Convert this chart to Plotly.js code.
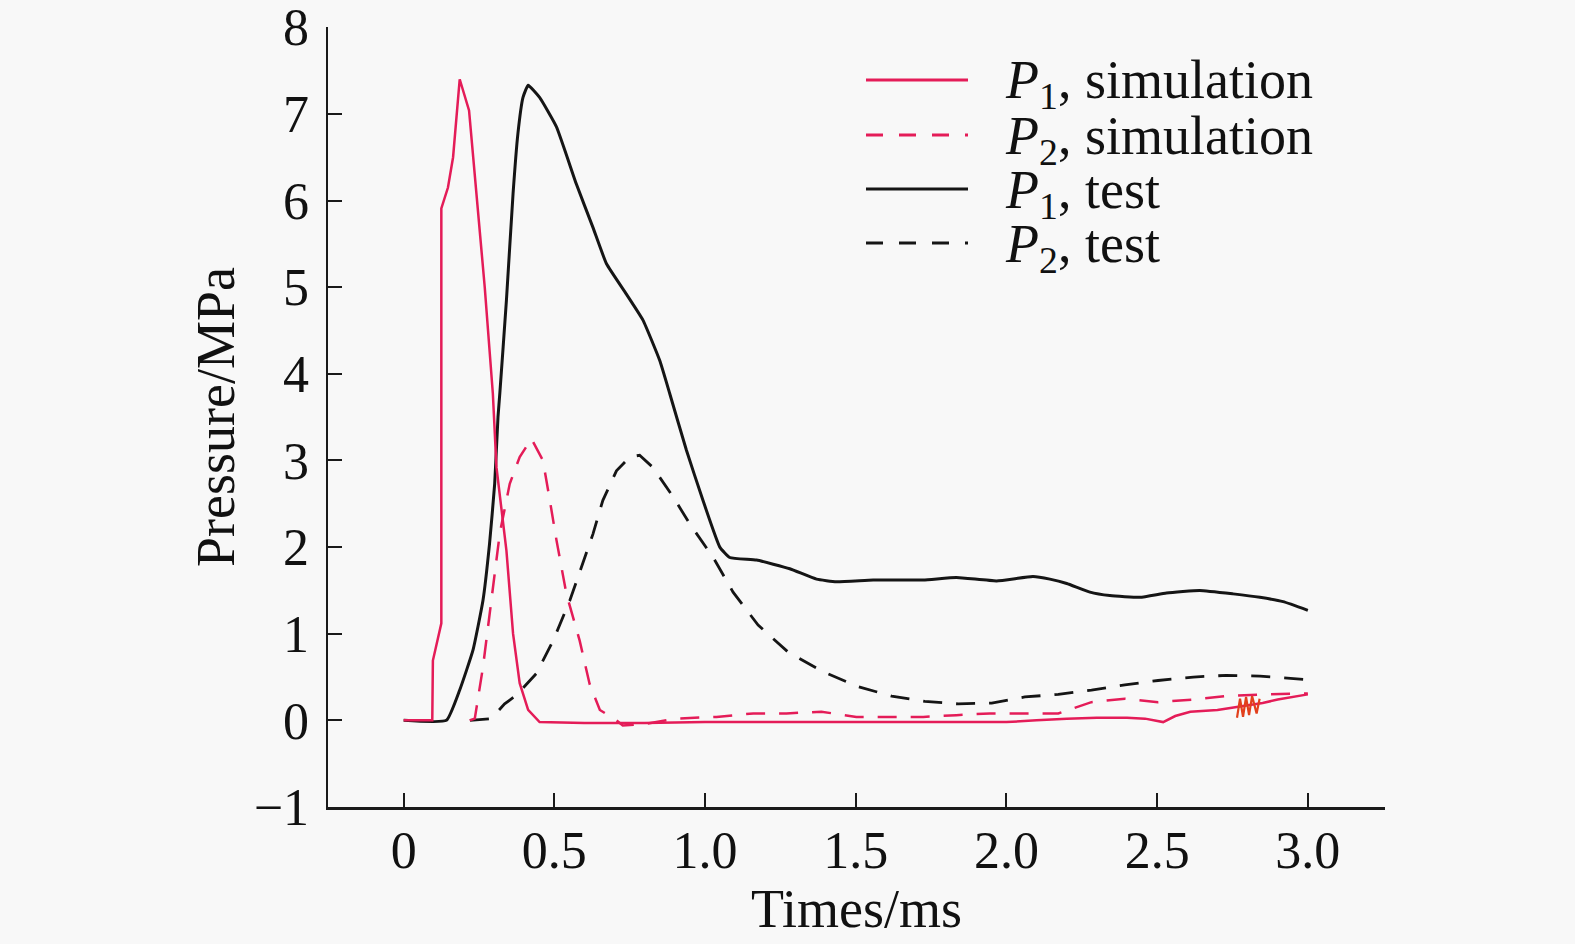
<!DOCTYPE html>
<html>
<head>
<meta charset="utf-8">
<script src="https://cdn.plot.ly/plotly-3.0.1.min.js"></script>
<style>
html,body{margin:0;padding:0;background:#f8f8f8;}
#chart{width:1575px;height:944px;}
</style>
</head>
<body>
<div id="chart"></div>
<script>
// ---- data (time in ms, pressure in MPa) ----
const p1TestT = [0, 0.142, 0.186, 0.23, 0.263, 0.285, 0.302, 0.313, 0.319, 0.341, 0.363, 0.379, 0.396, 0.413, 0.451, 0.507, 0.573, 0.628, 0.673, 0.739, 0.794, 0.85, 0.883, 0.938, 0.993, 1.049, 1.082, 1.171, 1.281, 1.37, 1.436, 1.558, 1.724, 1.834, 1.967, 2.088, 2.144, 2.2, 2.277, 2.343, 2.443, 2.531, 2.641, 2.752, 2.841, 2.918, 3.0];
const p1TestP = [0, 0, 0.35, 0.81, 1.38, 2.04, 2.73, 3.5, 3.77, 4.85, 6.08, 6.77, 7.19, 7.33, 7.19, 6.85, 6.19, 5.69, 5.27, 4.92, 4.62, 4.15, 3.77, 3.12, 2.54, 2.0, 1.88, 1.85, 1.75, 1.63, 1.6, 1.62, 1.62, 1.65, 1.61, 1.66, 1.63, 1.58, 1.48, 1.44, 1.42, 1.47, 1.5, 1.46, 1.42, 1.37, 1.27];

const p2TestT = [0.22, 0.29, 0.335, 0.374, 0.44, 0.496, 0.551, 0.59, 0.628, 0.661, 0.706, 0.75, 0.783, 0.827, 0.894, 0.949, 1.027, 1.093, 1.176, 1.275, 1.392, 1.508, 1.619, 1.729, 1.84, 1.951, 2.061, 2.172, 2.282, 2.393, 2.503, 2.62, 2.73, 2.841, 2.957, 3.0];
const p2TestP = [0, 0.02, 0.19, 0.29, 0.54, 0.92, 1.38, 1.77, 2.15, 2.54, 2.88, 3.04, 3.06, 2.92, 2.58, 2.27, 1.88, 1.48, 1.1, 0.79, 0.56, 0.39, 0.28, 0.22, 0.19, 0.2, 0.27, 0.3, 0.35, 0.41, 0.46, 0.5, 0.52, 0.51, 0.48, 0.47];

const p1SimT = [0, 0.095, 0.097, 0.125, 0.125, 0.147, 0.164, 0.186, 0.217, 0.241, 0.269, 0.296, 0.308, 0.341, 0.363, 0.385, 0.413, 0.451, 0.6, 0.8, 1.0, 1.2, 1.5, 1.8, 2.0, 2.1, 2.2, 2.3, 2.4, 2.46, 2.52, 2.56, 2.61, 2.7, 2.76, 2.85, 2.9, 3.0];
const p1SimP = [0, 0, 0.69, 1.12, 5.91, 6.15, 6.5, 7.4, 7.04, 6.08, 5.0, 3.77, 2.92, 1.96, 1.0, 0.43, 0.12, -0.02, -0.03, -0.03, -0.02, -0.02, -0.02, -0.02, -0.02, 0.0, 0.02, 0.03, 0.03, 0.02, -0.02, 0.05, 0.1, 0.12, 0.15, 0.2, 0.24, 0.3];

const p2SimT = [0.219, 0.236, 0.263, 0.291, 0.319, 0.352, 0.385, 0.424, 0.462, 0.485, 0.507, 0.54, 0.584, 0.617, 0.651, 0.706, 0.727, 0.805, 0.9, 1.038, 1.16, 1.27, 1.386, 1.502, 1.613, 1.724, 1.834, 1.945, 2.061, 2.172, 2.282, 2.393, 2.503, 2.62, 2.73, 2.85, 3.0];
const p2SimP = [0, 0.02, 0.61, 1.38, 2.16, 2.73, 3.04, 3.25, 3.0, 2.54, 2.08, 1.46, 0.92, 0.42, 0.12, 0.0, -0.06, -0.04, 0.02, 0.04, 0.08, 0.08, 0.1, 0.04, 0.04, 0.04, 0.06, 0.08, 0.08, 0.08, 0.21, 0.25, 0.21, 0.24, 0.28, 0.3, 0.31];

// small plotting artifact on the P1 simulation curve
const glitchT = [2.765, 2.775, 2.785, 2.795, 2.805, 2.815, 2.83, 2.84];
const glitchP = [0.03, 0.25, 0.04, 0.27, 0.06, 0.28, 0.08, 0.25];

const xTickVals = [0, 0.5, 1.0, 1.5, 2.0, 2.5, 3.0];
const xTickText = ['0', '0.5', '1.0', '1.5', '2.0', '2.5', '3.0'];
const yTickVals = [-1, 0, 1, 2, 3, 4, 5, 6, 7, 8];
const yTickText = ['\u22121', '0', '1', '2', '3', '4', '5', '6', '7', '8'];

const legendNames = ['<i>P</i><sub>1</sub>, simulation', '<i>P</i><sub>2</sub>, simulation', '<i>P</i><sub>1</sub>, test', '<i>P</i><sub>2</sub>, test'];

// ---- styles ----
const RED = '#e41c58';
const BLACK = '#151515';
const DASH = '19px,14px';
const FONT = 'Liberation Serif, Times New Roman, serif';

const traces = [
  {x: p2TestT, y: p2TestP, mode: 'lines', line: {color: BLACK, width: 2.8, dash: DASH}, showlegend: false},
  {x: p1TestT, y: p1TestP, mode: 'lines', line: {color: BLACK, width: 3, shape: 'spline', smoothing: 0.4}, showlegend: false},
  {x: p2SimT, y: p2SimP, mode: 'lines', line: {color: RED, width: 2.5, dash: DASH}, showlegend: false},
  {x: p1SimT, y: p1SimP, mode: 'lines', line: {color: RED, width: 2.5}, showlegend: false},
  {x: glitchT, y: glitchP, mode: 'lines', line: {color: '#e2401c', width: 2.2}, showlegend: false}
];

// manual legend (paper coordinates)
const L = 328, R = 1385, T = 27, B = 807;
const px = v => (v - L) / (R - L);
const py = v => (B - v) / (B - T);
const rowsY = [80, 135, 189, 243];
const legendStyle = [
  {color: RED, dash: 'solid'},
  {color: RED, dash: '17px,16px'},
  {color: BLACK, dash: 'solid'},
  {color: BLACK, dash: '17px,16px'}
];
const shapes = [];
const annotations = [];
rowsY.forEach((ry, i) => {
  shapes.push({type: 'line', xref: 'paper', yref: 'paper', x0: px(866), x1: px(968), y0: py(ry), y1: py(ry),
    line: {color: legendStyle[i].color, width: 2.8, dash: legendStyle[i].dash}});
  annotations.push({xref: 'paper', yref: 'paper', x: px(1003), y: py(ry + 4), xanchor: 'left', yanchor: 'middle',
    text: legendNames[i], showarrow: false, font: {family: FONT, size: 54, color: '#111'}});
});

const layout = {
  width: 1575, height: 944,
  paper_bgcolor: '#f8f8f8', plot_bgcolor: '#f8f8f8',
  margin: {l: L, r: 1575 - R, t: T, b: 944 - B},
  showlegend: false,
  font: {family: FONT, color: '#111'},
  xaxis: {
    range: [-0.251, 3.256], showgrid: false, zeroline: false,
    showline: true, linecolor: '#1a1a1a', linewidth: 2.5,
    ticks: 'inside', ticklen: 14, tickwidth: 2, tickcolor: '#1a1a1a',
    tickvals: xTickVals, ticktext: xTickText,
    tickfont: {family: FONT, size: 52, color: '#111'},
    ticklabelstandoff: -4, ticklabeloverflow: 'allow',
    title: {text: 'Times/ms', font: {family: FONT, size: 54, color: '#111'}, standoff: 12}
  },
  yaxis: {
    range: [-1, 8.003], showgrid: false, zeroline: false,
    showline: true, linecolor: '#1a1a1a', linewidth: 2.5,
    ticks: 'inside', ticklen: 14, tickwidth: 2, tickcolor: '#1a1a1a',
    tickvals: yTickVals, ticktext: yTickText,
    tickfont: {family: FONT, size: 52, color: '#111'},
    ticklabelstandoff: 6, ticklabeloverflow: 'allow',
    title: {text: 'Pressure/MPa', font: {family: FONT, size: 54, color: '#111'}, standoff: 2}
  },
  shapes: shapes,
  annotations: annotations
};

Plotly.newPlot('chart', traces, layout, {staticPlot: true, displayModeBar: false});
</script>
</body>
</html>
